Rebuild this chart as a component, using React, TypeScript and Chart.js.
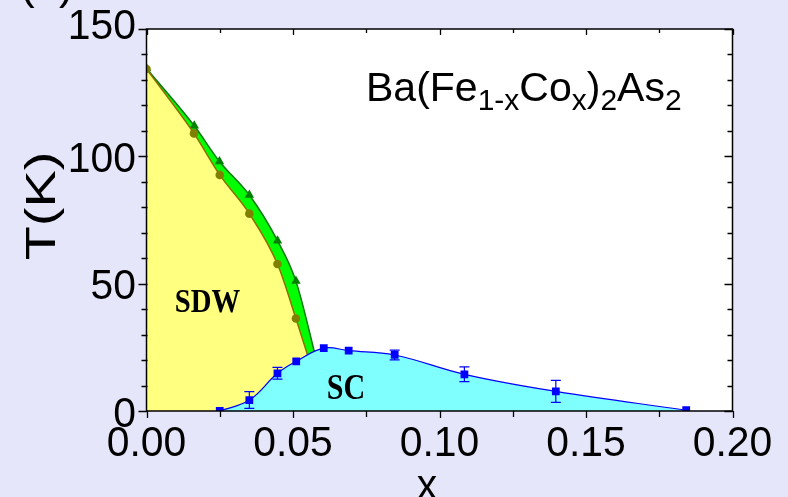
import React, { useEffect, useRef } from 'react';
import { Chart, registerables } from 'chart.js';

Chart.register(...registerables);

// ---- data ----
const sdwX = [0, 0.0162, 0.025, 0.0351, 0.0447, 0.051, 0.0555];
const sdwT = [134.3, 109, 92.7, 77.5, 57.7, 36.3, 20];
const sdwMarker = [1, 1, 1, 1, 1, 1, 0];

const structX = [0, 0.0163, 0.0249, 0.0351, 0.0447, 0.051, 0.058];
const structT = [134.5, 112, 98, 84.8, 66.9, 51, 20];
const structMarker = [1, 1, 1, 1, 1, 1, 0];

const scX = [0.025, 0.0351, 0.0447, 0.0511, 0.0605, 0.069, 0.0847, 0.1085, 0.1397, 0.1842];
const scT = [0, 4.3, 14.8, 19.5, 24.7, 23.7, 22, 14.4, 7.7, 0.3];
const scErr = [0, 3.3, 2.3, 0, 0, 0, 1.9, 2.9, 4.3, 0];

const xTicks = [0, 0.05, 0.1, 0.15, 0.2];
const xTickLabels = ['0.00', '0.05', '0.10', '0.15', '0.20'];
const xMinorTicks = [0.025, 0.075, 0.125, 0.175];
const yTicks = [0, 50, 100, 150];
const yTickLabels = ['0', '50', '100', '150'];
const yMinorTicks = [10, 20, 30, 40, 60, 70, 80, 90, 110, 120, 130, 140];

const xTitle = 'x';
const yTitle = 'T(K)';
const panelLabel = '(a)';
const sdwLabel = 'SDW';
const scLabel = 'SC';

const SANS = '"Liberation Sans", Arial, sans-serif';
const SERIF = '"Liberation Serif", "Times New Roman", serif';

function drawText(
  ctx: CanvasRenderingContext2D,
  text: string,
  x: number,
  y: number,
  font: string,
  align: CanvasTextAlign,
  baseline: CanvasTextBaseline,
  sx = 1
) {
  ctx.save();
  ctx.font = font;
  ctx.textAlign = align;
  ctx.textBaseline = baseline;
  ctx.fillStyle = '#000';
  ctx.translate(x, y);
  ctx.scale(sx, 1);
  ctx.fillText(text, 0, 0);
  ctx.restore();
}

const bgPlugin = {
  id: 'bgPlugin',
  beforeDraw(chart: any) {
    const { ctx, chartArea: a } = chart;
    ctx.save();
    ctx.fillStyle = '#E6E6FA';
    ctx.fillRect(0, 0, chart.width, chart.height);
    ctx.fillStyle = '#FFFFFF';
    ctx.fillRect(a.left, a.top, a.right - a.left, a.bottom - a.top);
    ctx.restore();
  },
};

const decorPlugin = {
  id: 'decorPlugin',
  afterDatasetsDraw(chart: any) {
    const { ctx, chartArea: a, scales } = chart;
    const xs = scales.x;
    const ys = scales.y;

    // error bars
    ctx.save();
    ctx.strokeStyle = '#0000FF';
    ctx.lineWidth = 1.2;
    scX.forEach((xv, i) => {
      const e = scErr[i];
      if (!e) return;
      const px = xs.getPixelForValue(xv);
      const y1 = ys.getPixelForValue(scT[i] + e);
      const y2 = ys.getPixelForValue(scT[i] - e);
      ctx.beginPath();
      ctx.moveTo(px, y1);
      ctx.lineTo(px, y2);
      ctx.moveTo(px - 5, y1);
      ctx.lineTo(px + 5, y1);
      ctx.moveTo(px - 5, y2);
      ctx.lineTo(px + 5, y2);
      ctx.stroke();
    });
    ctx.restore();

    // frame
    ctx.save();
    ctx.strokeStyle = '#000';
    ctx.lineWidth = 1.5;
    ctx.strokeRect(a.left, a.top, a.right - a.left, a.bottom - a.top);

    ctx.lineWidth = 1.3;
    ctx.beginPath();
    const xAll = [...xTicks.map((v) => [v, 1]), ...xMinorTicks.map((v) => [v, 0])];
    xAll.forEach(([v, major]) => {
      const px = Math.round(xs.getPixelForValue(v)) + 0.5;
      const lb = major ? 7 : 6;
      ctx.moveTo(px, a.bottom);
      ctx.lineTo(px, a.bottom + lb);
      const lt = major ? 6 : 4;
      ctx.moveTo(px, a.top);
      ctx.lineTo(px, a.top + lt);
    });
    const yAll = [...yTicks.map((v) => [v, 1]), ...yMinorTicks.map((v) => [v, 0])];
    yAll.forEach(([v, major]) => {
      const py = Math.round(ys.getPixelForValue(v)) + 0.5;
      const l = major ? 8 : 5;
      ctx.moveTo(a.left - l, py);
      ctx.lineTo(a.left + 1, py);
      ctx.moveTo(a.right, py);
      ctx.lineTo(a.right - l, py);
    });
    ctx.stroke();
    ctx.restore();

    // tick labels
    const tickFont = `43px ${SANS}`;
    xTicks.forEach((v, i) => {
      drawText(ctx, xTickLabels[i], xs.getPixelForValue(v), 456, tickFont, 'center', 'alphabetic', 0.95);
    });
    yTicks.forEach((v, i) => {
      let py = ys.getPixelForValue(v) + 15.5;
      if (v === yTicks[yTicks.length - 1]) py -= 6;
      drawText(ctx, yTickLabels[i], 136, py, tickFont, 'right', 'alphabetic', 0.95);
    });

    // axis titles
    drawText(ctx, xTitle, 427, 499, `43px ${SANS}`, 'center', 'alphabetic', 0.95);
    ctx.save();
    ctx.translate(55, 206);
    ctx.rotate(-Math.PI / 2);
    drawText(ctx, yTitle, 0, 0, `43px ${SANS}`, 'center', 'alphabetic', 1.3);
    ctx.restore();

    // panel label, cut at top
    drawText(ctx, panelLabel, 20, -1, `44px ${SANS}`, 'left', 'alphabetic', 1);

    // region labels
    drawText(ctx, sdwLabel, 207.5, 312, `bold 33px ${SERIF}`, 'center', 'alphabetic', 0.87);
    drawText(ctx, scLabel, 346, 399, `bold 35px ${SERIF}`, 'center', 'alphabetic', 0.86);

    // formula Ba(Fe1-xCox)2As2
    ctx.save();
    ctx.fillStyle = '#000';
    ctx.textBaseline = 'alphabetic';
    ctx.textAlign = 'left';
    const mainF = `41px ${SANS}`;
    const subF = `30px ${SANS}`;
    const parts: [string, boolean][] = [
      ['Ba(Fe', false],
      ['1-x', true],
      ['Co', false],
      ['x', true],
      [')', false],
      ['2', true],
      ['As', false],
      ['2', true],
    ];
    let cx = 366;
    const base = 101;
    parts.forEach(([t, sub]) => {
      ctx.font = sub ? subF : mainF;
      ctx.fillText(t, cx, sub ? base + 9 : base);
      cx += ctx.measureText(t).width;
    });
    ctx.restore();
  },
};

export default function App() {
  const ref = useRef<HTMLCanvasElement | null>(null);

  useEffect(() => {
    if (!ref.current) return;
    const chart = new Chart(ref.current, {
      type: 'line',
      data: {
        datasets: [
          {
            label: 'structural',
            data: structX.map((x, i) => ({ x, y: structT[i] })),
            borderColor: '#007A00',
            borderWidth: 1.5,
            backgroundColor: '#00FF00',
            fill: 'origin',
            cubicInterpolationMode: 'monotone',
            pointStyle: 'triangle',
            pointRadius: structMarker.map((m) => (m ? 5.5 : 0)),
            pointBackgroundColor: '#008000',
            pointBorderColor: '#008000',
            pointBorderWidth: 0,
            order: 3,
          },
          {
            label: 'SDW',
            data: sdwX.map((x, i) => ({ x, y: sdwT[i] })),
            borderColor: '#8B7000',
            borderWidth: 1.5,
            backgroundColor: '#FFFF80',
            fill: 'origin',
            cubicInterpolationMode: 'monotone',
            pointStyle: 'circle',
            pointRadius: sdwMarker.map((m) => (m ? 4.3 : 0)),
            pointBackgroundColor: '#808000',
            pointBorderColor: '#808000',
            pointBorderWidth: 0,
            order: 2,
          },
          {
            label: 'SC',
            data: scX.map((x, i) => ({ x, y: scT[i] })),
            borderColor: '#0000FF',
            borderWidth: 1.2,
            backgroundColor: '#80FFFF',
            fill: 'origin',
            tension: 0.4,
            pointStyle: 'rect',
            pointRadius: 5.5,
            pointBackgroundColor: '#0000FF',
            pointBorderColor: '#0000FF',
            pointBorderWidth: 0,
            order: 1,
          },
        ],
      },
      options: {
        animation: false,
        responsive: false,
        maintainAspectRatio: false,
        layout: { padding: { left: 146.5, right: 55.5, top: 29, bottom: 86 } },
        plugins: {
          legend: { display: false },
          tooltip: { enabled: false },
          title: { display: false },
        },
        events: [],
        scales: {
          x: { type: 'linear', display: false, min: 0, max: 0.2 },
          y: { type: 'linear', display: false, min: 0, max: 150 },
        },
      },
      plugins: [bgPlugin, decorPlugin],
    });
    return () => chart.destroy();
  }, []);

  return (
    <div style={{ position: 'absolute', left: 0, top: 0, width: 788, height: 497 }}>
      <canvas ref={ref} width={788} height={497} style={{ display: 'block', width: 788, height: 497 }} />
    </div>
  );
}
